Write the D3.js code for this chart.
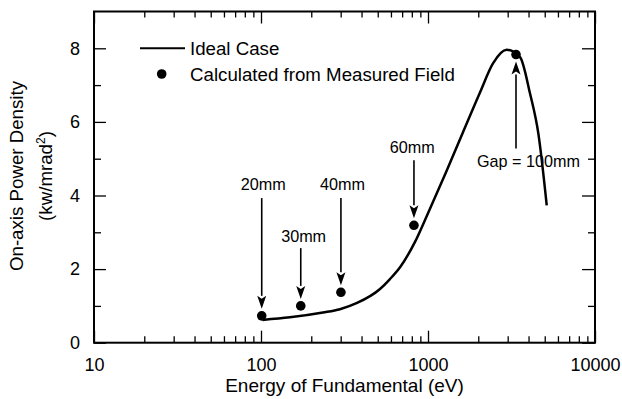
<!DOCTYPE html>
<html>
<head>
<meta charset="utf-8">
<script src="https://cdn.jsdelivr.net/npm/d3@7"></script>
<style>
  html, body { margin: 0; padding: 0; background: #fff; }
  svg { display: block; font-family: "Liberation Sans", Arial, Helvetica, sans-serif; }
</style>
</head>
<body>
<svg id="chart" width="622" height="399"></svg>
<script>
// ---- Data ----
const idealEnergy = [102, 149, 235, 297, 376, 516, 592, 680, 836, 1000, 1282, 1620, 2048, 2450, 2958, 3557, 4083, 4580, 5140];
const idealPower  = [0.62, 0.69, 0.82, 0.91, 1.08, 1.46, 1.73, 2.05, 2.74, 3.52, 4.63, 5.72, 6.80, 7.59, 7.96, 7.76, 6.77, 5.68, 3.73];

const measuredEnergy = [101, 173, 301, 824, 3365];
const measuredPower  = [0.73, 1.0, 1.37, 3.19, 7.83];

const gapLabels   = ["20mm", "30mm", "40mm", "60mm", "Gap = 100mm"];
const labelPower  = [4.14, 2.74, 4.14, 5.15, 4.77];   // label baseline (data units)
const arrowFrom   = [3.93, 2.57, 3.93, 4.96, 5.28];   // arrow tail (data units)
const labelEnergy = [103, 180, 308, 805, 4000];       // label centre (data units)

const xMajorTicks = [10, 100, 1000, 10000];
const yMajorTicks = [0, 2, 4, 6, 8];
const yMinorTicks = [1, 3, 5, 7];
const legendLabels = ["Ideal Case", "Calculated from Measured Field"];
const xTitle = "Energy of Fundamental (eV)";
const yTitle1 = "On-axis Power Density";

// ---- Layout ----
const L = 94, R = 595, T = 11.5, B = 342.7;
const svg = d3.select("#chart");
const x = d3.scaleLog().domain([10, 10000]).range([L, R]);
const y = d3.scaleLinear().domain([0, 9]).range([B, T]);

const xMinor = [];
[10, 100, 1000].forEach(dec => { for (let k = 2; k <= 9; k++) xMinor.push(dec * k); });

function clean(g) { g.select(".domain").remove(); g.selectAll("line").attr("stroke", "#000").attr("stroke-width", 1.3); }

// bottom
svg.append("g").attr("transform", `translate(0,${B})`)
  .call(d3.axisBottom(x).tickValues(xMajorTicks).tickSize(-12).tickPadding(15.5).tickFormat(d3.format("d")))
  .call(clean)
  .call(g => g.selectAll("text").attr("font-size", 18).attr("fill", "#000").attr("font-family", "Liberation Sans, Arial, sans-serif"));
svg.append("g").attr("transform", `translate(0,${B})`)
  .call(d3.axisBottom(x).tickValues(xMinor).tickSize(-6.5).tickFormat(""))
  .call(clean);
// top
svg.append("g").attr("transform", `translate(0,${T})`)
  .call(d3.axisTop(x).tickValues(xMajorTicks).tickSize(-12).tickFormat(""))
  .call(clean);
svg.append("g").attr("transform", `translate(0,${T})`)
  .call(d3.axisTop(x).tickValues(xMinor).tickSize(-6).tickFormat(""))
  .call(clean);
// left
svg.append("g").attr("transform", `translate(${L},0)`)
  .call(d3.axisLeft(y).tickValues(yMajorTicks).tickSize(-12).tickPadding(14))
  .call(clean)
  .call(g => g.selectAll("text").attr("font-size", 18).attr("fill", "#000").attr("font-family", "Liberation Sans, Arial, sans-serif"));
svg.append("g").attr("transform", `translate(${L},0)`)
  .call(d3.axisLeft(y).tickValues(yMinorTicks).tickSize(-7).tickFormat(""))
  .call(clean);
// right
svg.append("g").attr("transform", `translate(${R},0)`)
  .call(d3.axisRight(y).tickValues(yMajorTicks).tickSize(-13).tickFormat(""))
  .call(clean);
svg.append("g").attr("transform", `translate(${R},0)`)
  .call(d3.axisRight(y).tickValues(yMinorTicks).tickSize(-7).tickFormat(""))
  .call(clean);

// frame
svg.append("rect").attr("x", L).attr("y", T).attr("width", R - L).attr("height", B - T)
  .attr("fill", "none").attr("stroke", "#000").attr("stroke-width", 2);

// axis titles
svg.append("text").attr("x", (L + R) / 2).attr("y", 392).attr("text-anchor", "middle")
  .attr("font-size", 19).text(xTitle);
const yt = svg.append("g").attr("transform", `translate(23,176) rotate(-90)`);
yt.append("text").attr("text-anchor", "middle").attr("font-size", 18.7).text(yTitle1);
const yt2 = svg.append("g").attr("transform", `translate(52,176) rotate(-90)`);
const t2 = yt2.append("text").attr("text-anchor", "middle").attr("font-size", 18.7);
t2.append("tspan").text("(kw/mrad");
t2.append("tspan").attr("font-size", 12).attr("dy", -7).text("2");
t2.append("tspan").attr("dy", 7).text(")");

// ideal curve
const idealData = idealEnergy.map((e, i) => [e, idealPower[i]]);
svg.append("path").datum(idealData)
  .attr("d", d3.line().x(d => x(d[0])).y(d => y(d[1])).curve(d3.curveMonotoneX))
  .attr("fill", "none").attr("stroke", "#000").attr("stroke-width", 2.5).attr("stroke-linejoin", "round");

// measured dots
svg.selectAll("circle.m").data(measuredEnergy).join("circle").attr("class", "m")
  .attr("cx", d => x(d)).attr("cy", (d, i) => y(measuredPower[i])).attr("r", 4.8).attr("fill", "#000");

// arrows + labels
gapLabels.forEach((lab, i) => {
  const ax = x(measuredEnergy[i]);
  const y0 = y(arrowFrom[i]);
  const dotY = y(measuredPower[i]);
  const down = y0 < dotY;
  const tip = down ? dotY - 7 : dotY + 7;
  const headLen = 13, headW = 4.5;
  const base = down ? tip - headLen : tip + headLen;
  svg.append("line").attr("x1", ax).attr("x2", ax).attr("y1", y0).attr("y2", base)
    .attr("stroke", "#000").attr("stroke-width", 1.6);
  svg.append("path")
    .attr("d", `M${ax},${tip} L${ax - headW},${base} L${ax},${base + (down ? 3 : -3)} L${ax + headW},${base} Z`)
    .attr("fill", "#000");
  svg.append("text").attr("x", x(labelEnergy[i])).attr("y", y(labelPower[i]))
    .attr("text-anchor", "middle").attr("font-size", 16.2).text(lab);
});

// legend
svg.append("line").attr("x1", 140).attr("x2", 185).attr("y1", 48.3).attr("y2", 48.3)
  .attr("stroke", "#000").attr("stroke-width", 2);
svg.append("text").attr("x", 190).attr("y", 54.8).attr("font-size", 18.7).text(legendLabels[0]);
svg.append("circle").attr("cx", 161.7).attr("cy", 74).attr("r", 4.8).attr("fill", "#000");
svg.append("text").attr("x", 190).attr("y", 80.5).attr("font-size", 18.7).text(legendLabels[1]);
</script>
</body>
</html>
